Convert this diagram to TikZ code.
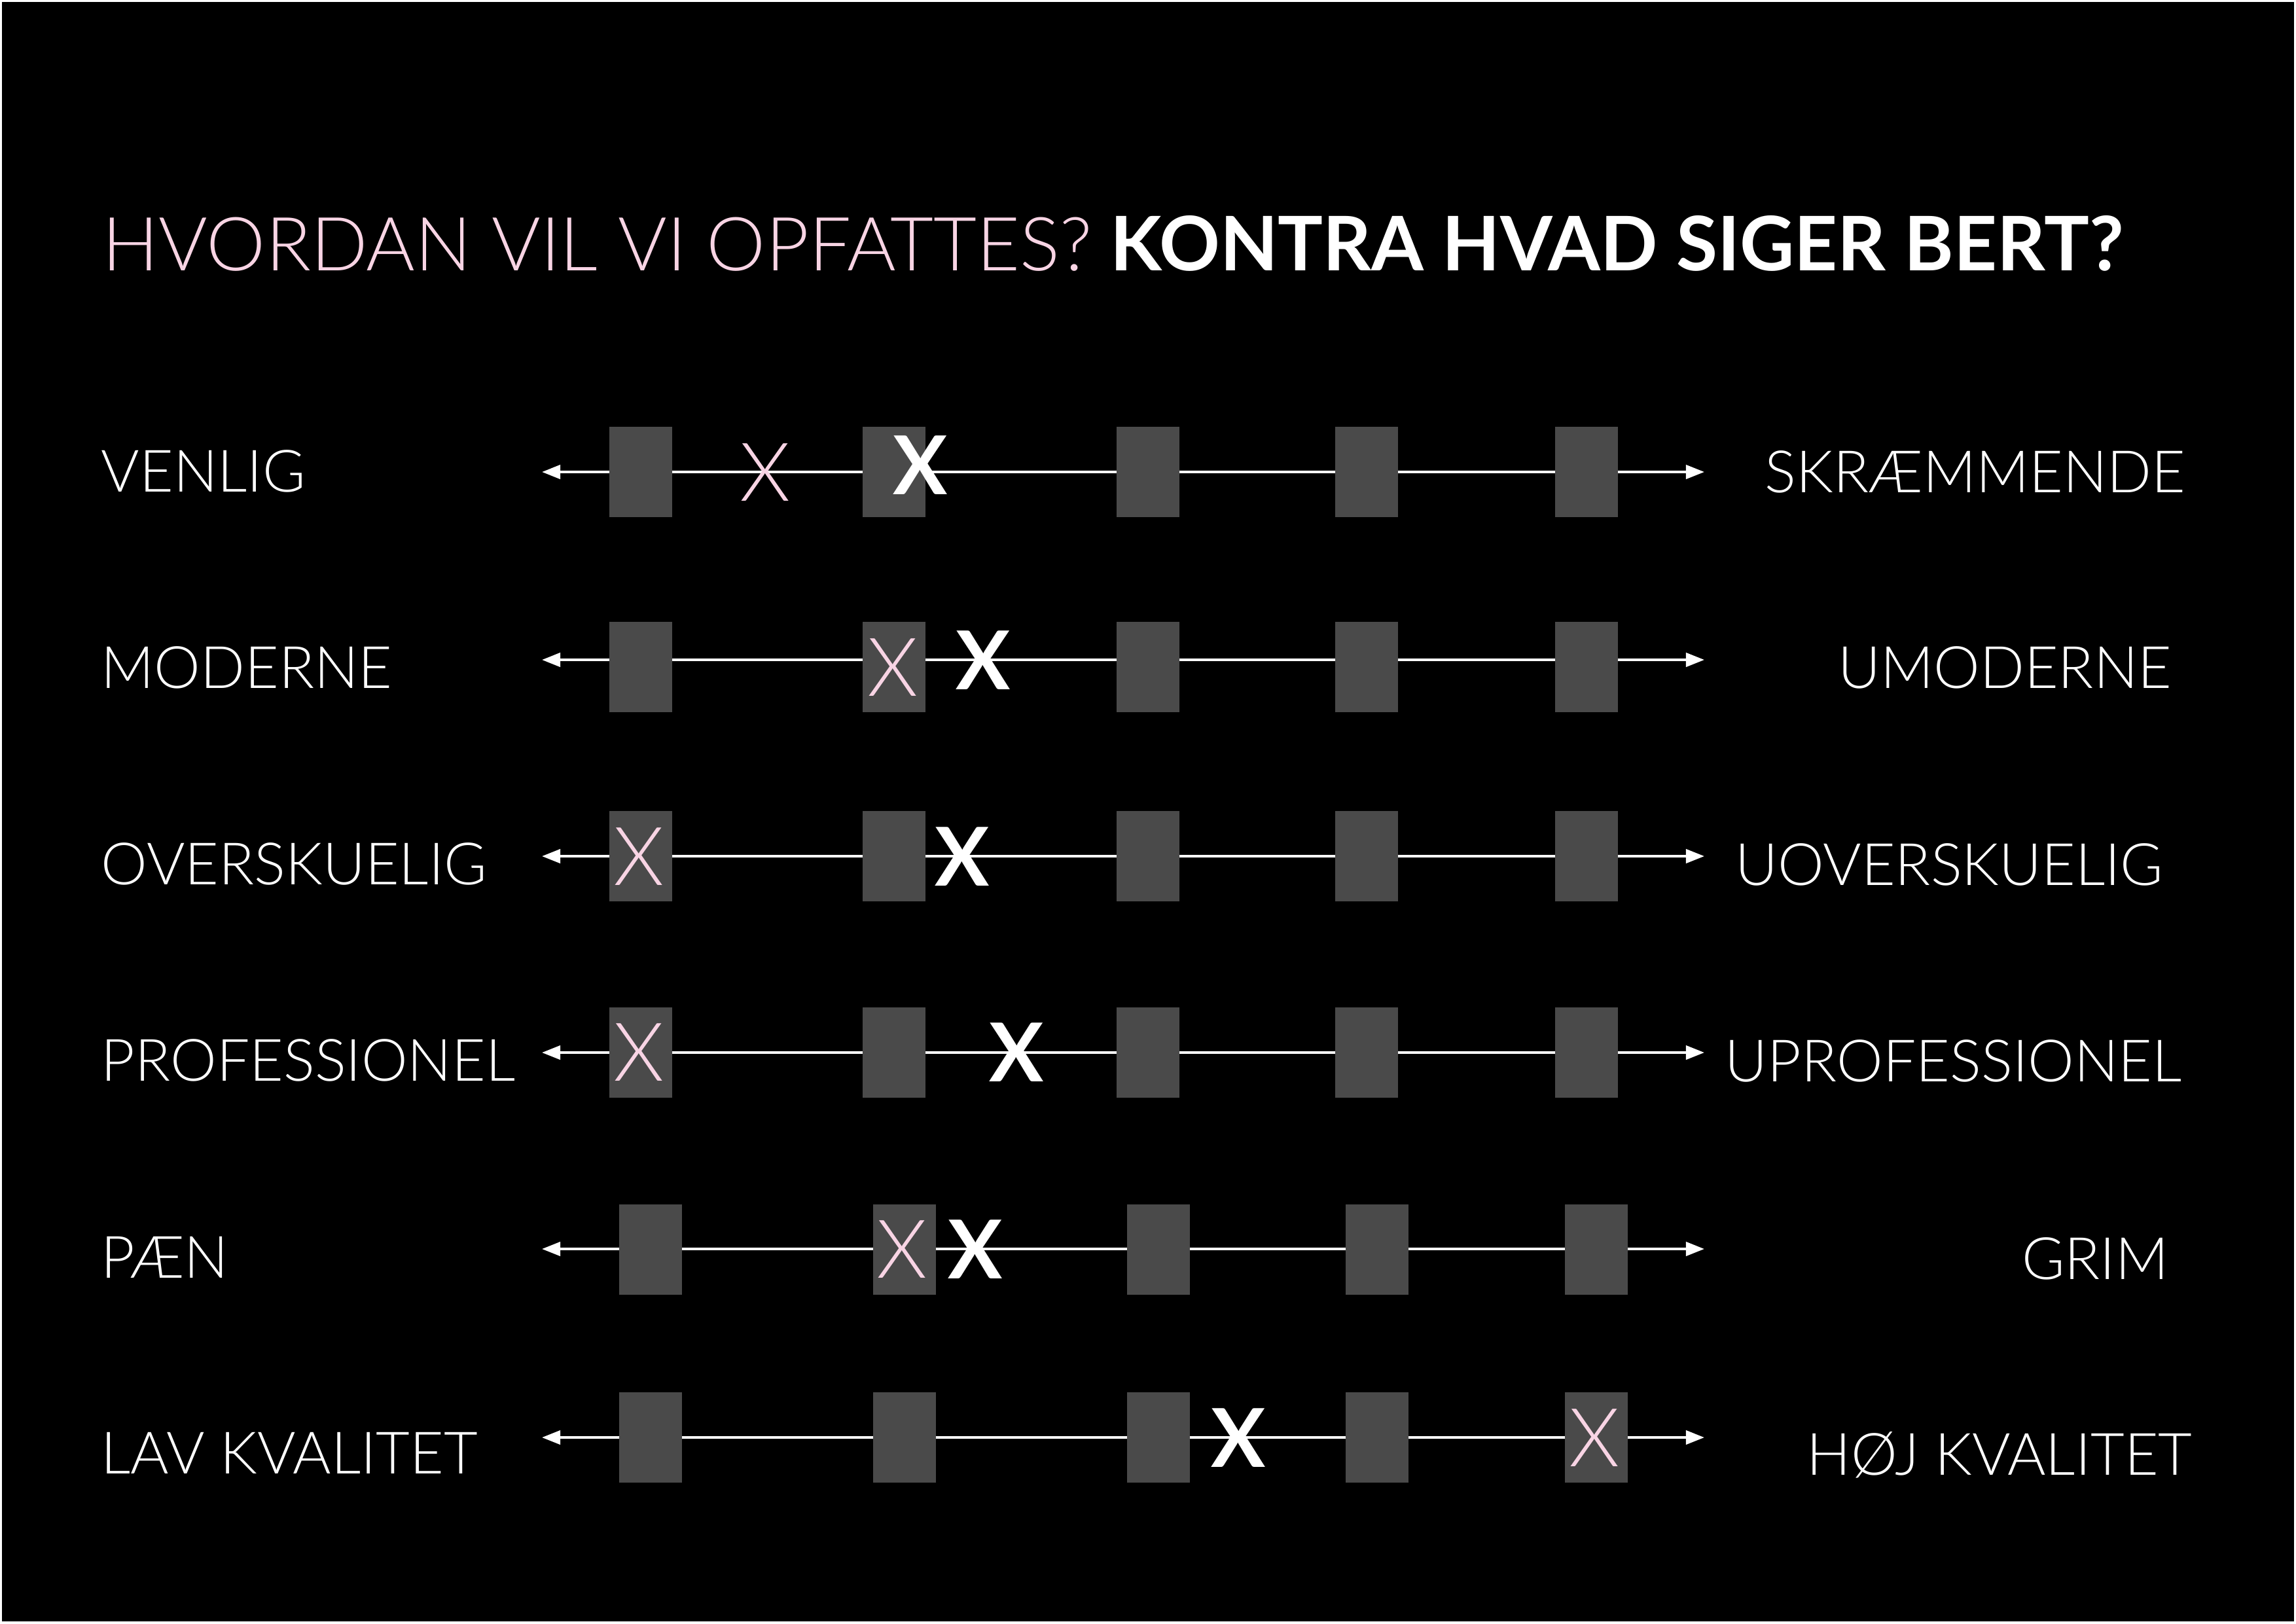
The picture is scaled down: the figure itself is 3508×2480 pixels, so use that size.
\documentclass[tikz,border=0pt]{standalone}
\usepackage{fontspec}
\setmainfont{Lato}
\IfFontExistsTF{Lato Light}{\newfontfamily\thinface{Lato Light}}{\newfontfamily\thinface{Lato}}
\usetikzlibrary{arrows.meta, positioning}
\definecolor{bertPink}{HTML}{F8D4E4}
\definecolor{bertBox}{HTML}{4A4A4A}

\begin{document}
\begin{tikzpicture}[
  x=0.01cm, y=-0.01cm,
  scalebox/.style={fill=bertBox, minimum width=0.96cm, minimum height=1.38cm, inner sep=0pt},
  axis/.style={white, line width=1.15pt, {Triangle[length=8pt, width=6pt]}-{Triangle[length=8pt, width=6pt]}},
  word/.style={text=white, inner sep=0pt, font=\thinface\fontsize{25.4}{30}\selectfont},
  leftword/.style={word, anchor=base west},
  rightword/.style={word, anchor=base east},
  wemark/.style={text=bertPink, inner sep=0pt, font=\thinface\fontsize{35.3}{40}\selectfont},
  bertmark/.style={text=white, inner sep=0pt, font=\fontsize{35.3}{40}\selectfont\bfseries},
]
% background
\fill[white] (0,0) rectangle (3508,2480);
\fill[black] (3,3) rectangle (3505,2477);

% title
\node[anchor=base west, inner sep=0pt, text=bertPink, font=\thinface\fontsize{32.4}{38}\selectfont] (title) at (156,413) {HVORDAN VIL VI OPFATTES?};
\node[anchor=base west, inner sep=0pt, text=white, font=\fontsize{32.7}{38}\selectfont\bfseries] (bert) at (1696,413) {KONTRA HVAD SIGER BERT?};

% axes
\foreach \r/\y in {1/721, 2/1008, 3/1308, 4/1608, 5/1908, 6/2196} {
  \coordinate (l\r) at (828,\y);
  \coordinate (r\r) at (2604,\y);
  \draw[axis] (l\r) -- (r\r);
}

% scale boxes
\foreach \r/\y in {1/721, 2/1019, 3/1308, 4/1608} {
  \foreach \i/\x in {1/979, 2/1366, 3/1754, 4/2088, 5/2424}
    \node[scalebox] (b\r-\i) at (\x,\y) {};
}
\foreach \r/\y in {5/1909, 6/2196} {
  \foreach \i/\x in {1/994, 2/1382, 3/1770, 4/2104, 5/2439}
    \node[scalebox] (b\r-\i) at (\x,\y) {};
}

% labels
\node[leftword] (venlig) at (154,751) {VENLIG};
\node[leftword] (moderne) at (154,1051) {MODERNE};
\node[leftword] (overskuelig) at (154,1351) {OVERSKUELIG};
\node[leftword] (professionel) at (154,1651) {PROFESSIONEL};
\node[leftword] (paen) at (154,1952) {PÆN};
\node[leftword] (lav) at (154,2251) {LAV KVALITET};

\node[rightword] (skraemmende) at (3340,752) {SKRÆMMENDE};
\node[rightword] (umoderne) at (3319,1051) {UMODERNE};
\node[rightword] (uoverskuelig) at (3306,1352) {UOVERSKUELIG};
\node[rightword] (uprofessionel) at (3334,1652) {UPROFESSIONEL};
\node[rightword] (grim) at (3314,1954) {GRIM};
\node[rightword] (hoej) at (3350,2253) {HØJ KVALITET};

% marks: we (pink) and Bert (white)
\node[wemark] (we1) at (1169,722) {X};
\node[wemark] (we2) at (1364,1020) {X};
\node[wemark] (we3) at (976,1309) {X};
\node[wemark] (we4) at (976,1608) {X};
\node[wemark] (we5) at (1378,1909) {X};
\node[wemark] (we6) at (2436,2197) {X};

\node[bertmark] (bert1) at (1406,711) {X};
\node[bertmark] (bert2) at (1502,1009) {X};
\node[bertmark] (bert3) at (1470,1309) {X};
\node[bertmark] (bert4) at (1553,1608) {X};
\node[bertmark] (bert5) at (1490,1909) {X};
\node[bertmark] (bert6) at (1892,2197) {X};
\end{tikzpicture}
\end{document}
